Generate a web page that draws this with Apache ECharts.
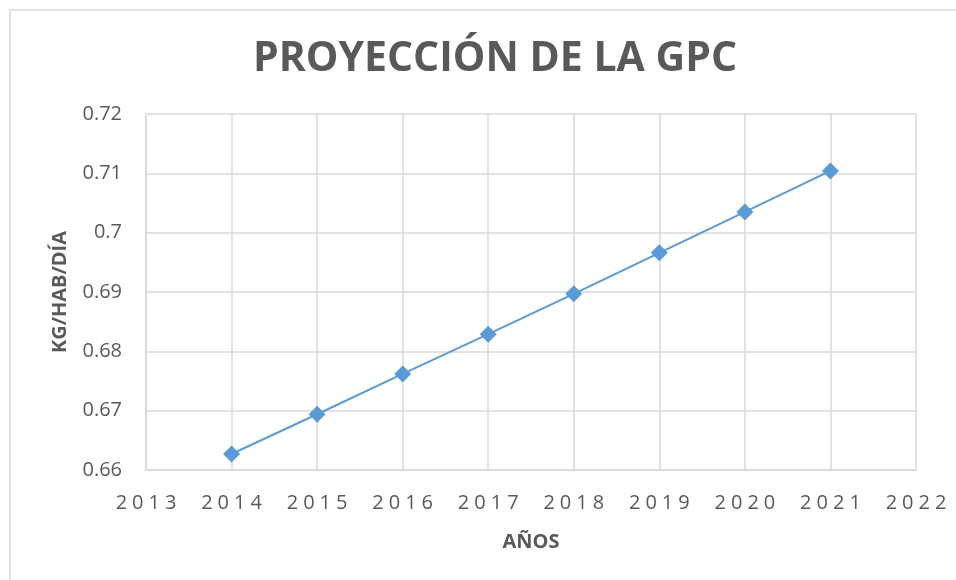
<!DOCTYPE html>
<html>
<head>
<meta charset="utf-8">
<script src="https://cdn.jsdelivr.net/npm/echarts@6/dist/echarts.min.js"></script>
<style>
  html, body { margin: 0; padding: 0; background: #fff; }
  #chart { width: 956px; height: 580px; }
</style>
</head>
<body>
<div id="chart"></div>
<script>
// datos de la proyección
const years = [2014, 2015, 2016, 2017, 2018, 2019, 2020, 2021];
const gpc = [0.6627, 0.6694, 0.6762, 0.6829, 0.6897, 0.6966, 0.7035, 0.7104];

const chart = echarts.init(document.getElementById('chart'));

const gris = '#595959';
const lineaGrid = '#D9D9D9';

const option = {
    animation: false,
    textStyle: { fontFamily: 'Open Sans' },
    title: {
        text: 'PROYECCIÓN DE LA GPC',
        left: 248,
        top: 34,
        textStyle: { fontSize: 41, fontWeight: 'bold', color: gris, fontFamily: 'Open Sans' }
    },
    grid: { left: 146, right: 40, top: 114, bottom: 110 },
    xAxis: {
        type: 'value',
        min: 2013,
        max: 2022,
        interval: 1,
        name: 'AÑOS',
        nameLocation: 'middle',
        nameGap: 62,
        nameTextStyle: { fontSize: 20, fontWeight: 'bold', color: gris },
        axisLine: { lineStyle: { color: lineaGrid, width: 1.5 } },
        axisTick: { show: false },
        axisLabel: {
            fontSize: 20,
            color: gris,
            margin: 23,
            formatter: v => String(v).split('').join('\u2005')
        },
        splitLine: { show: true, lineStyle: { color: lineaGrid, width: 1.5 } }
    },
    yAxis: {
        type: 'value',
        min: 0.66,
        max: 0.72,
        interval: 0.01,
        name: 'KG/HAB/DÍA',
        nameLocation: 'middle',
        nameRotate: 90,
        nameGap: 76,
        nameTextStyle: { fontSize: 20, fontWeight: 'bold', color: gris },
        axisLine: { show: true, lineStyle: { color: lineaGrid, width: 1.5 } },
        axisTick: { show: false },
        axisLabel: { fontSize: 20, color: gris, margin: 24 },
        splitLine: { lineStyle: { color: lineaGrid, width: 1.5 } }
    },
    graphic: [{
        type: 'polyline',
        shape: { points: [[10, 600], [10, 10], [960, 10]] },
        style: { stroke: lineaGrid, lineWidth: 1.5, fill: null },
        silent: true
    }],
    series: [{
        type: 'line',
        data: years.map((y, i) => [y, gpc[i]]),
        symbol: 'diamond',
        symbolSize: 17,
        lineStyle: { color: '#5B9BD5', width: 2 },
        itemStyle: { color: '#5B9BD5' }
    }]
};

chart.setOption(option);
</script>
</body>
</html>
